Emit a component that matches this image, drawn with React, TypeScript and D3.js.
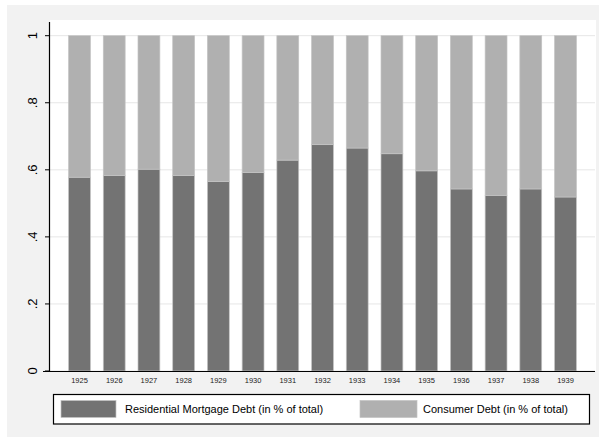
import React from "react";
import * as d3 from "d3";

const years = ["1925","1926","1927","1928","1929","1930","1931","1932","1933","1934","1935","1936","1937","1938","1939"];
const mortgageShare = [0.578,0.583,0.602,0.583,0.565,0.592,0.629,0.675,0.665,0.648,0.597,0.543,0.524,0.543,0.519];
const yTicks = [0, 0.2, 0.4, 0.6, 0.8, 1];
const yTickLabels = ["0", ".2", ".4", ".6", ".8", "1"];
const legendLabels = ["Residential Mortgage Debt (in % of total)", "Consumer Debt (in % of total)"];

const W = 605, H = 439;
const DARK = "#737373", LIGHT = "#b0b0b0", EDGE = "#c4c4c4";
const FONT = "'Liberation Sans', Arial, Helvetica, sans-serif";

export default function App() {
  const x = d3.scaleBand<string>().domain(years).range([50, 595]).paddingInner(0.37).paddingOuter(0.535);
  const y = d3.scaleLinear().domain([0, 1]).range([371, 35.7]);
  const stack = d3.stack<any>().keys(["m", "c"])(years.map((yr, i) => ({ yr, m: mortgageShare[i], c: 1 - mortgageShare[i] })));
  const colors = [DARK, LIGHT];
  return (
    <svg width={W} height={H} style={{ position: "absolute", left: 0, top: 0 }} fontFamily={FONT}>
      <rect x={0} y={0} width={W} height={H} fill="#ffffff" />
      <rect x={7} y={5} width={592} height={432} fill="#f2f2f2" />
      <rect x={50} y={20} width={546} height={351} fill="#ffffff" />
      {yTicks.map((t) => (
        <line key={"g" + t} x1={50} x2={595} y1={y(t)} y2={y(t)} stroke="#e6e6e6" strokeWidth={1} />
      ))}
      {stack.map((layer, li) => (
        <g key={li}>
          {layer.map((d, i) => (
            <rect key={i} x={x(years[i])!} width={x.bandwidth()} y={y(d[1])} height={y(d[0]) - y(d[1])}
              fill={colors[li]} stroke={EDGE} strokeWidth={0.7} />
          ))}
        </g>
      ))}
      <line x1={49.5} x2={49.5} y1={22} y2={371.5} stroke="#000" strokeWidth={1.2} />
      <line x1={43} x2={595} y1={371.5} y2={371.5} stroke="#000" strokeWidth={1.2} />
      {yTicks.map((t, i) => (
        <g key={"t" + t}>
          <line x1={45} x2={49.5} y1={y(t)} y2={y(t)} stroke="#000" strokeWidth={1} />
          <text transform={`translate(37,${y(t)}) rotate(-90)`} textAnchor="middle" fontSize={13} fill="#000">{yTickLabels[i]}</text>
        </g>
      ))}
      {years.map((yr) => (
        <text key={yr} x={x(yr)! + x.bandwidth() / 2} y={383} textAnchor="middle" fontSize={7.5} fill="#222">{yr}</text>
      ))}
      <rect x={53.5} y={394.5} width={536} height={29.5} fill="#fff" stroke="#000" strokeWidth={1.2} />
      <rect x={61} y={400.5} width={55} height={17} fill={DARK} stroke={EDGE} strokeWidth={0.7} />
      <text x={125} y={413} fontSize={11} fill="#000">{legendLabels[0]}</text>
      <rect x={360} y={400.5} width={57} height={17} fill={LIGHT} stroke={EDGE} strokeWidth={0.7} />
      <text x={423} y={413} fontSize={11} fill="#000">{legendLabels[1]}</text>
    </svg>
  );
}
